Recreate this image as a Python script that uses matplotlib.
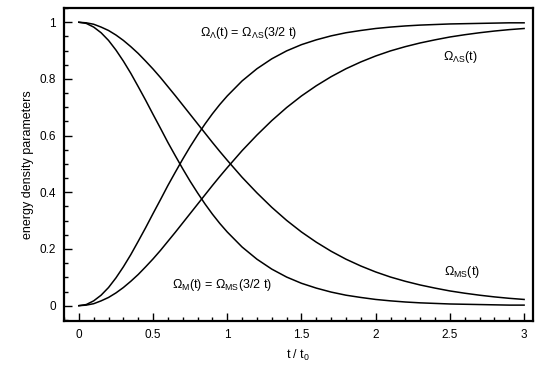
import matplotlib
matplotlib.use("Agg")
import matplotlib.pyplot as plt
from matplotlib.ticker import MultipleLocator, FuncFormatter

plt.rcParams['font.family'] = ['Liberation Sans', 'DejaVu Sans']
plt.rcParams['mathtext.fontset'] = 'custom'
plt.rcParams['mathtext.rm'] = 'Liberation Sans'
plt.rcParams['mathtext.it'] = 'Liberation Sans:italic'

# time in units of t0 (finer steps where the curves bend most)
t = [0.0, 0.05, 0.1, 0.15, 0.2, 0.25, 0.3, 0.35, 0.4, 0.45, 0.5,
     0.55, 0.6, 0.65, 0.7, 0.75, 0.8, 0.85, 0.9, 0.95, 1.0,
     1.1, 1.2, 1.3, 1.4, 1.5, 1.6, 1.7, 1.8, 1.9, 2.0,
     2.1, 2.2, 2.3, 2.4, 2.5, 2.6, 2.7, 2.8, 2.9, 3.0]

# Omega_Lambda_S(t)
lam_s = [0.0, 0.002, 0.007, 0.017, 0.029, 0.045, 0.064, 0.086, 0.110, 0.137, 0.165,
         0.195, 0.227, 0.259, 0.292, 0.325, 0.358, 0.391, 0.424, 0.456, 0.487,
         0.547, 0.602, 0.653, 0.699, 0.740, 0.776, 0.808, 0.836, 0.860, 0.881,
         0.899, 0.914, 0.927, 0.938, 0.948, 0.956, 0.963, 0.969, 0.974, 0.978]
# Omega_M_S(t)
m_s = [1.0, 0.998, 0.993, 0.983, 0.971, 0.955, 0.936, 0.914, 0.890, 0.863, 0.835,
       0.805, 0.773, 0.741, 0.708, 0.675, 0.642, 0.609, 0.576, 0.544, 0.513,
       0.453, 0.398, 0.347, 0.301, 0.260, 0.224, 0.192, 0.164, 0.140, 0.119,
       0.101, 0.086, 0.073, 0.062, 0.052, 0.044, 0.037, 0.031, 0.026, 0.022]
# Omega_Lambda(t) = Omega_Lambda_S(3/2 t)
lam = [0.0, 0.004, 0.017, 0.037, 0.064, 0.098, 0.137, 0.180, 0.227, 0.275, 0.325,
       0.374, 0.424, 0.471, 0.517, 0.561, 0.602, 0.641, 0.677, 0.710, 0.740,
       0.793, 0.836, 0.871, 0.899, 0.921, 0.938, 0.952, 0.963, 0.971, 0.978,
       0.983, 0.987, 0.990, 0.992, 0.994, 0.995, 0.996, 0.997, 0.998, 0.998]
# Omega_M(t) = Omega_M_S(3/2 t)
m = [1.0, 0.996, 0.983, 0.963, 0.936, 0.902, 0.863, 0.820, 0.773, 0.725, 0.675,
     0.626, 0.576, 0.529, 0.483, 0.439, 0.398, 0.359, 0.323, 0.290, 0.260,
     0.207, 0.164, 0.129, 0.101, 0.079, 0.062, 0.048, 0.037, 0.029, 0.022,
     0.017, 0.013, 0.010, 0.008, 0.006, 0.005, 0.004, 0.003, 0.002, 0.002]

fig = plt.figure(figsize=(5.45, 3.85), dpi=100)
ax = fig.add_axes([0.1174, 0.167, 0.8606, 0.812])

for y in (lam_s, m_s, lam, m):
    ax.plot(t, y, color='black', lw=1.1)

ax.set_xlim(-0.1, 3.06)
ax.set_ylim(-0.053, 1.05)
ax.xaxis.set_major_locator(MultipleLocator(0.5))
ax.xaxis.set_minor_locator(MultipleLocator(0.1))
ax.yaxis.set_major_locator(MultipleLocator(0.2))
ax.yaxis.set_minor_locator(MultipleLocator(0.05))
fmt = FuncFormatter(lambda v, p: '%g' % round(v, 2))
ax.xaxis.set_major_formatter(fmt)
ax.yaxis.set_major_formatter(fmt)
ax.tick_params(which='both', direction='in', width=1.0, labelsize=8.5, pad=6)
ax.tick_params(which='major', length=6)
ax.tick_params(which='minor', length=3)
for s in ax.spines.values():
    s.set_linewidth(1.6)

ax.set_xlabel(r't / t$_0$', fontsize=9, labelpad=5)
ax.set_ylabel('energy density parameters', fontsize=9, labelpad=4)

ax.text(0.816, 0.962, r'$\Omega_\Lambda$(t) = $\Omega_{\Lambda \mathrm{S}}$(3/2 t)',
        fontsize=9, va='center', ha='left')
ax.text(2.455, 0.878, r'$\Omega_{\Lambda \mathrm{S}}$(t)', fontsize=9, va='center', ha='left')
ax.text(0.627, 0.073, r'$\Omega_\mathrm{M}$(t) = $\Omega_\mathrm{MS}$(3/2 t)',
        fontsize=9, va='center', ha='left')
ax.text(2.46, 0.119, r'$\Omega_\mathrm{MS}$(t)', fontsize=9, va='center', ha='left')

fig.savefig('out.png', dpi=100)
